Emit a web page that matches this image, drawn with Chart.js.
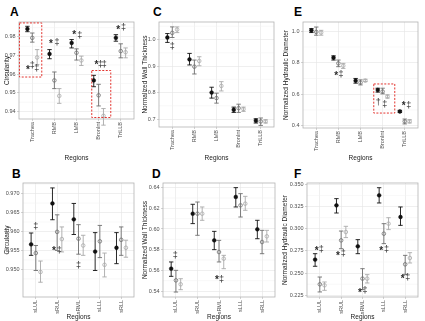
<!DOCTYPE html>
<html><head><meta charset="utf-8">
<script src="https://cdn.jsdelivr.net/npm/chart.js@4.4.1/dist/chart.umd.min.js"></script>
<style>
body{margin:0;background:#fff;width:425px;height:321px;position:relative;overflow:hidden;font-family:"Liberation Sans",Arial,sans-serif}
canvas{position:absolute}
.lbl{position:absolute;font-weight:bold;font-size:12px;line-height:12px;color:#000}
</style></head><body>
<div class="lbl" style="left:10px;top:6px">A</div>
<div class="lbl" style="left:153px;top:6px">C</div>
<div class="lbl" style="left:294px;top:6px">E</div>
<div class="lbl" style="left:12px;top:168px">B</div>
<div class="lbl" style="left:152px;top:168px">D</div>
<div class="lbl" style="left:294px;top:168px">F</div>
<canvas id="cA" width="140" height="162" style="left:0;top:0"></canvas>
<canvas id="cC" width="140" height="162" style="left:140px;top:0"></canvas>
<canvas id="cE" width="145" height="162" style="left:280px;top:0"></canvas>
<canvas id="cB" width="140" height="159" style="left:0;top:162px"></canvas>
<canvas id="cD" width="140" height="159" style="left:140px;top:162px"></canvas>
<canvas id="cF" width="145" height="159" style="left:280px;top:162px"></canvas>
<script>
// ---------- DATA ----------
const regionsTop = ['Trachea','RMB','LMB','BronInt','TriLLB'];
const regionsBottom = ['sLUL','sRUL','sRML','sLLL','sRLL'];
const seriesOffsets = [-0.22, 0, 0.22];

// Panel A: Circularity (airways)
const aTicks = [0.94,0.95,0.96,0.97,0.98];
const aTickLabels = ['0.94','0.95','0.96','0.97','0.98'];
const aRange = [0.936, 0.988];
const aMean1 = [0.9843,0.9709,0.9768,0.9567,0.9795];
const aLo1   = [0.9828,0.9683,0.9741,0.9533,0.9777];
const aHi1   = [0.9857,0.9732,0.9786,0.9594,0.9812];
const aMean2 = [0.9795,0.9567,0.9715,0.9487,0.9724];
const aLo2   = [0.9772,0.9523,0.9676,0.9430,0.9688];
const aHi2   = [0.9821,0.9612,0.9736,0.9546,0.9763];
const aMean3 = [0.9690,0.9484,0.9674,0.9377,0.9718];
const aLo3   = [0.9652,0.9444,0.9647,0.9327,0.9688];
const aHi3   = [0.9732,0.9523,0.9697,0.9416,0.9741];
const aNoteX = [0.8,1.0,1.2, 1.85,2.12, 2.9,3.15, 3.9,4.08,4.25, 4.88,5.12];
const aNoteY = [0.9630,0.9645,0.9628, 0.9772,0.9768, 0.9818,0.9807, 0.9661,0.9652,0.9652, 0.9848,0.9848];
const aNoteT = ['*','\u2021','\u2021', '*','\u2021', '*','\u2021', '*','\u2021','\u2021', '*','\u2021'];
const aBoxes = [[0.42,1.43,0.9585,0.9875],[3.69,4.55,0.9368,0.962]];

// Panel C: Normalized Wall Thickness (airways)
const cTicks = [0.7,0.8,0.9,1.0];
const cTickLabels = ['0.7','0.8','0.9','1.0'];
const cRange = [0.67, 1.066];
const cMean1 = [1.0075,0.925,0.800,0.735,0.694];
const cLo1   = [0.989,0.904,0.779,0.725,0.685];
const cHi1   = [1.0225,0.9475,0.820,0.745,0.701];
const cMean2 = [1.025,0.8975,0.779,0.741,0.691];
const cLo2   = [1.0075,0.870,0.760,0.725,0.676];
const cHi2   = [1.0475,0.9225,0.7975,0.756,0.704];
const cMean3 = [1.0375,0.919,0.825,0.7375,0.691];
const cLo3   = [1.026,0.901,0.806,0.729,0.685];
const cHi3   = [1.0475,0.935,0.841,0.745,0.6975];
const cNoteX = [1.0];
const cNoteY = [0.974];
const cNoteT = ['\u2021'];
const cBoxes = [];

// Panel E: Normalized Hydraulic Diameter (airways)
const eTicks = [0.4,0.6,0.8,1.0];
const eTickLabels = ['0.4','0.6','0.8','1.0'];
const eRange = [0.385, 1.059];
const eMean1 = [1.006,0.832,0.686,0.627,0.490];
const eLo1   = [0.992,0.817,0.670,0.613,0.484];
const eHi1   = [1.017,0.844,0.700,0.638,0.497];
const eMean2 = [0.996,0.796,0.674,0.617,0.427];
const eLo2   = [0.975,0.775,0.659,0.602,0.411];
const eHi2   = [1.027,0.817,0.691,0.638,0.442];
const eMean3 = [0.992,0.781,0.686,0.585,0.427];
const eLo3   = [0.975,0.764,0.680,0.575,0.417];
const eHi3   = [1.006,0.796,0.695,0.596,0.438];
const eNoteX = [1.9,2.12, 3.8,4.1, 4.95,5.18];
const eNoteY = [0.728,0.725, 0.545,0.535, 0.533,0.526];
const eNoteT = ['*','\u2021', '\u2020','\u2021', '*','\u2021'];
const eBoxes = [[3.6,4.55,0.48,0.665]];

// Panel B: Circularity (segments)
const bTicks = [0.950,0.955,0.960,0.965,0.970];
const bTickLabels = ['0.950','0.955','0.960','0.965','0.970'];
const bRange = [0.9427, 0.9728];
const bMean1 = [0.9566,0.9674,0.9632,0.9547,0.9557];
const bLo1   = [0.9537,0.9631,0.9592,0.9497,0.9515];
const bHi1   = [0.9596,0.9715,0.9674,0.9597,0.9597];
const bMean2 = [0.9543,0.9599,0.9581,0.9574,0.9578];
const bLo2   = [0.9497,0.9550,0.9540,0.9531,0.9537];
const bHi2   = [0.9563,0.9644,0.9618,0.9616,0.9612];
const bMean3 = [0.9493,0.9580,0.9563,0.9512,0.9557];
const bLo3   = [0.9466,0.9546,0.9537,0.9480,0.9532];
const bHi3   = [0.9522,0.9612,0.9590,0.9543,0.9577];
const bNoteX = [1.0, 1.85,2.1, 3.0];
const bNoteY = [0.9612, 0.9554,0.9550, 0.9510];
const bNoteT = ['\u2021', '*','\u2021', '\u2021'];
const bBoxes = [];

// Panel D: Normalized Wall Thickness (segments)
const dTicks = [0.54,0.56,0.58,0.60,0.62,0.64];
const dTickLabels = ['0.54','0.56','0.58','0.60','0.62','0.64'];
const dRange = [0.5342, 0.6445];
const dMean1 = [0.5616,0.6148,0.5890,0.6310,0.5997];
const dLo1   = [0.5542,0.6052,0.5800,0.6213,0.5906];
const dHi1   = [0.5681,0.6239,0.5977,0.6400,0.6084];
const dMean2 = [0.5503,0.6148,0.5777,0.6229,0.5874];
const dLo2   = [0.5390,0.5939,0.5681,0.6116,0.5761];
const dHi2   = [0.5600,0.6261,0.5890,0.6342,0.5987];
const dMean3 = [0.5465,0.6148,0.5713,0.6245,0.5929];
const dLo3   = [0.5413,0.6084,0.5616,0.6181,0.5874];
const dHi3   = [0.5519,0.6213,0.5745,0.6316,0.5987];
const dNoteX = [0.97, 2.9,3.12];
const dNoteY = [0.5745, 0.5519,0.5510];
const dNoteT = ['\u2021', '*','\u2021'];
const dBoxes = [];

// Panel F: Normalized Hydraulic Diameter (segments)
const fTicks = [0.225,0.250,0.275,0.300,0.325,0.350];
const fTickLabels = ['0.225','0.250','0.275','0.300','0.325','0.350'];
const fRange = [0.2231, 0.3515];
const fMean1 = [0.2652,0.3263,0.2802,0.3376,0.3132];
const fLo1   = [0.2577,0.3177,0.2719,0.3290,0.3038];
const fHi1   = [0.2719,0.3339,0.2877,0.3462,0.3245];
const fMean2 = [0.2374,0.2869,0.2438,0.2944,0.2599];
const fLo2   = [0.2288,0.2775,0.2314,0.2832,0.2486];
const fHi2   = [0.2456,0.2974,0.2550,0.3057,0.2700];
const fMean3 = [0.2363,0.2963,0.2438,0.3057,0.2670];
const fLo3   = [0.2306,0.2900,0.2389,0.2990,0.2614];
const fHi3   = [0.2400,0.3027,0.2483,0.3124,0.2730];
const fNoteX = [0.85,1.07, 1.85,2.1, 2.88,3.12, 3.88,4.12, 4.88,5.12];
const fNoteY = [0.2764,0.2764, 0.2712,0.2720, 0.2299,0.2306, 0.2764,0.2764, 0.2456,0.2456];
const fNoteT = ['*','\u2021', '*','\u2021', '*','\u2021', '*','\u2021', '*','\u2021'];
const fBoxes = [];

// ---------- STYLE / LAYOUT ----------
const seriesColors = ['#111111','#6e6e6e','#a9a9a9'];
const FONT = '"Liberation Sans", Arial, sans-serif';

function makeChart(cfg){
  const {id, cats, ticks, tickLabels, range, means, los, his, noteX, noteY, noteT, boxes, ytitle, lay} = cfg;
  const canvas = document.getElementById(id);
  const datasets = means.map((m, s) => ({
    data: m.map((v, i) => ({x: i + 1 + seriesOffsets[s], y: v})),
    pointStyle: 'circle',
    pointRadius: s === 0 ? 1.9 : 1.8,
    pointBackgroundColor: s === 0 ? seriesColors[0] : 'rgba(255,255,255,0)',
    pointBorderColor: seriesColors[s],
    pointBorderWidth: s === 0 ? 0.5 : 0.8,
    showLine: false
  }));
  const decor = {
    id: 'decor_' + id,
    beforeDatasetsDraw(chart){
      const ctx = chart.ctx, a = chart.chartArea, y = chart.scales.y, x = chart.scales.x;
      ctx.save();
      // minor grid
      ctx.strokeStyle = '#f1f1f1'; ctx.lineWidth = 0.5;
      const step = ticks[1] - ticks[0];
      const mins = [ticks[0] - step/2].concat(ticks.map(t => t + step/2));
      mins.forEach(v => {
        if (v <= range[0] || v >= range[1]) return;
        const py = y.getPixelForValue(v);
        ctx.beginPath(); ctx.moveTo(a.left, py); ctx.lineTo(a.right, py); ctx.stroke();
      });
      // border
      ctx.strokeStyle = '#b3b3b3'; ctx.lineWidth = 0.8;
      ctx.strokeRect(a.left, a.top, a.right - a.left, a.bottom - a.top);
      // error bars
      means.forEach((m, s) => {
        ctx.strokeStyle = seriesColors[s]; ctx.lineWidth = 0.9;
        m.forEach((v, i) => {
          const px = x.getPixelForValue(i + 1 + seriesOffsets[s]);
          const p1 = y.getPixelForValue(los[s][i]);
          const p2 = y.getPixelForValue(his[s][i]);
          const cw = 2.2;
          ctx.beginPath();
          ctx.moveTo(px, p1); ctx.lineTo(px, p2);
          ctx.moveTo(px - cw, p1); ctx.lineTo(px + cw, p1);
          ctx.moveTo(px - cw, p2); ctx.lineTo(px + cw, p2);
          ctx.stroke();
        });
      });
      ctx.restore();
    },
    afterDatasetsDraw(chart){
      const ctx = chart.ctx, y = chart.scales.y, x = chart.scales.x;
      ctx.save();
      ctx.textAlign = 'center'; ctx.textBaseline = 'middle';
      ctx.fillStyle = '#2b2b2b';
      noteT.forEach((t, i) => {
        ctx.font = (t === '*' ? 'bold 10px ' : '9px ') + FONT;
        const py = y.getPixelForValue(noteY[i]) + (t === '*' ? 2 : 0);
        ctx.fillText(t, x.getPixelForValue(noteX[i]), py);
      });
      ctx.strokeStyle = '#e3342f'; ctx.lineWidth = 1; ctx.setLineDash([2, 1.5]);
      boxes.forEach(b => {
        const x0 = x.getPixelForValue(b[0]), x1 = x.getPixelForValue(b[1]);
        const y0 = y.getPixelForValue(b[2]), y1 = y.getPixelForValue(b[3]);
        ctx.strokeRect(x0, y1, x1 - x0, y0 - y1);
      });
      ctx.restore();
    }
  };
  return new Chart(canvas, {
    type: 'scatter',
    data: {datasets},
    options: {
      responsive: false, animation: false, devicePixelRatio: 1,
      layout: {padding: {left: 0, top: lay.T - lay.cy, right: lay.cx + lay.cw - lay.R, bottom: 0}},
      plugins: {legend: {display: false}, tooltip: {enabled: false}},
      scales: {
        x: {
          type: 'linear', min: 0.4, max: 5.6,
          afterBuildTicks: sc => { sc.ticks = cats.map((c, i) => ({value: i + 1})); },
          afterFit: sc => { sc.height = lay.cy + lay.ch - lay.B; },
          ticks: {autoSkip: false, minRotation: 90, maxRotation: 90, padding: 1,
                  color: '#4d4d4d', font: {family: FONT, size: 5.5},
                  callback: (v, i) => cats[i]},
          grid: {color: '#e4e4e4', lineWidth: 0.6, tickLength: 2, tickColor: '#b3b3b3'},
          border: {display: false},
          title: {display: true, text: 'Regions', color: '#1a1a1a', font: {family: FONT, size: 6.5},
                  padding: {top: 0, bottom: 0}}
        },
        y: {
          type: 'linear', min: range[0], max: range[1],
          afterBuildTicks: sc => { sc.ticks = ticks.map(v => ({value: v})); },
          afterFit: sc => { sc.width = lay.L - lay.cx; },
          ticks: {padding: 1.5, color: '#4d4d4d', font: {family: FONT, size: 5.5},
                  callback: (v, i) => tickLabels[i]},
          grid: {color: '#e4e4e4', lineWidth: 0.6, tickLength: 2, tickColor: '#b3b3b3'},
          border: {display: false},
          title: {display: true, text: ytitle, color: '#1a1a1a', font: {family: FONT, size: 6.5},
                  padding: {top: lay.tp, bottom: 0}}
        }
      }
    },
    plugins: [decor]
  });
}

makeChart({id:'cA', cats: regionsTop, ticks: aTicks, tickLabels: aTickLabels, range: aRange,
  means:[aMean1,aMean2,aMean3], los:[aLo1,aLo2,aLo3], his:[aHi1,aHi2,aHi3],
  noteX:aNoteX, noteY:aNoteY, noteT:aNoteT, boxes:aBoxes, ytitle:'Circularity',
  lay:{cx:0,cy:0,cw:140,ch:162,L:19,T:22,R:134,B:119,tp:3}});
makeChart({id:'cC', cats: regionsTop, ticks: cTicks, tickLabels: cTickLabels, range: cRange,
  means:[cMean1,cMean2,cMean3], los:[cLo1,cLo2,cLo3], his:[cHi1,cHi2,cHi3],
  noteX:cNoteX, noteY:cNoteY, noteT:cNoteT, boxes:cBoxes, ytitle:'Normalized Wall Thickness',
  lay:{cx:140,cy:0,cw:140,ch:162,L:159,T:22,R:274,B:127,tp:1}});
makeChart({id:'cE', cats: regionsTop, ticks: eTicks, tickLabels: eTickLabels, range: eRange,
  means:[eMean1,eMean2,eMean3], los:[eLo1,eLo2,eLo3], his:[eHi1,eHi2,eHi3],
  noteX:eNoteX, noteY:eNoteY, noteT:eNoteT, boxes:eBoxes, ytitle:'Normalized Hydraulic Diameter',
  lay:{cx:280,cy:0,cw:145,ch:162,L:303,T:22,R:418,B:128,tp:2}});
makeChart({id:'cB', cats: regionsBottom, ticks: bTicks, tickLabels: bTickLabels, range: bRange,
  means:[bMean1,bMean2,bMean3], los:[bLo1,bLo2,bLo3], his:[bHi1,bHi2,bHi3],
  noteX:bNoteX, noteY:bNoteY, noteT:bNoteT, boxes:bBoxes, ytitle:'Circularity',
  lay:{cx:0,cy:162,cw:140,ch:159,L:23,T:183,R:134,B:297,tp:3}});
makeChart({id:'cD', cats: regionsBottom, ticks: dTicks, tickLabels: dTickLabels, range: dRange,
  means:[dMean1,dMean2,dMean3], los:[dLo1,dLo2,dLo3], his:[dHi1,dHi2,dHi3],
  noteX:dNoteX, noteY:dNoteY, noteT:dNoteT, boxes:dBoxes, ytitle:'Normalized Wall Thickness',
  lay:{cx:140,cy:162,cw:140,ch:159,L:163,T:183,R:275,B:297,tp:1}});
makeChart({id:'cF', cats: regionsBottom, ticks: fTicks, tickLabels: fTickLabels, range: fRange,
  means:[fMean1,fMean2,fMean3], los:[fLo1,fLo2,fLo3], his:[fHi1,fHi2,fHi3],
  noteX:fNoteX, noteY:fNoteY, noteT:fNoteT, boxes:fBoxes, ytitle:'Normalized Hydraulic Diameter',
  lay:{cx:280,cy:162,cw:145,ch:159,L:307,T:183,R:418,B:297,tp:1}});
</script>
</body></html>
